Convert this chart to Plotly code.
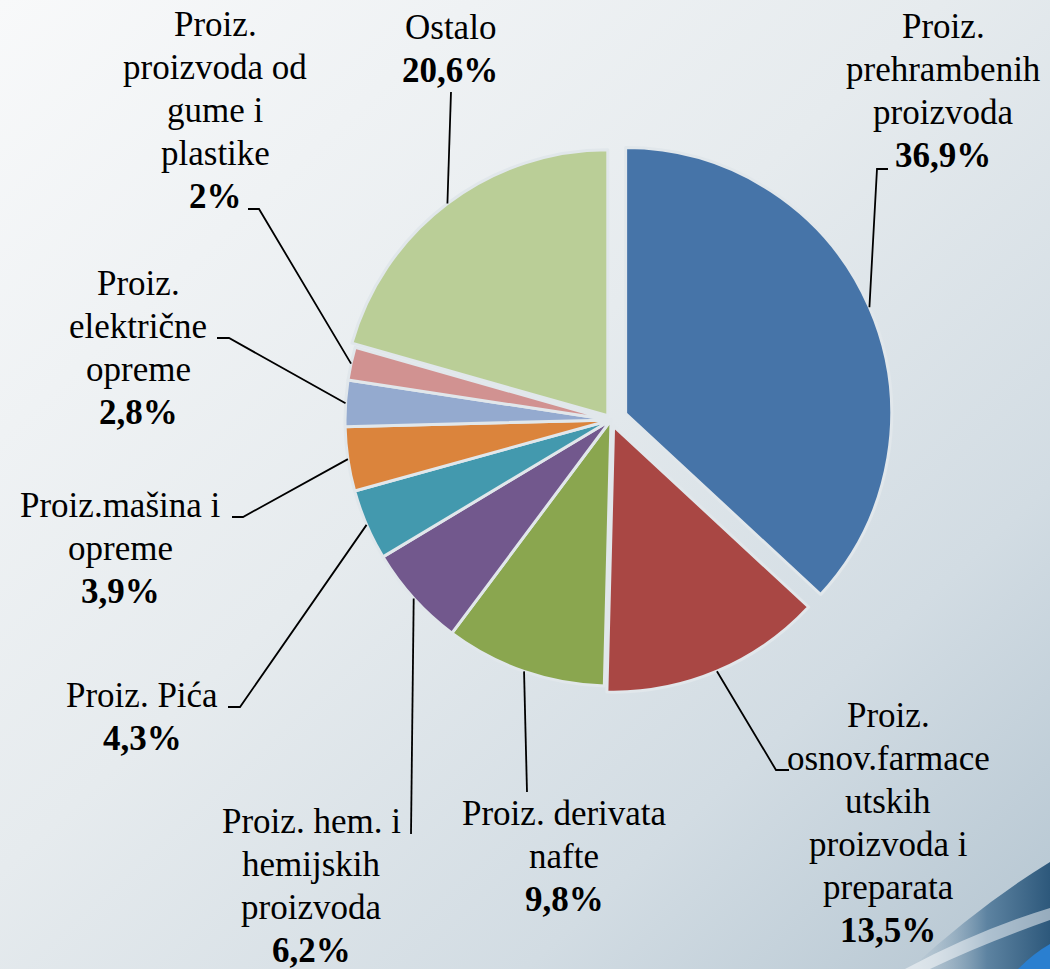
import math
import base64
import plotly.graph_objects as go

# ---------------- data ----------------
categories = [
    "Proiz.<br>prehrambenih<br>proizvoda",
    "Proiz.<br>osnov.farmace<br>utskih<br>proizvoda i<br>preparata",
    "Proiz. derivata<br>nafte",
    "Proiz. hem. i<br>hemijskih<br>proizvoda",
    "Proiz. Pića",
    "Proiz.mašina i<br>opreme",
    "Proiz.<br>električne<br>opreme",
    "Proiz.<br>proizvoda od<br>gume i<br>plastike",
    "Ostalo",
]
values = [36.9, 13.5, 9.8, 6.2, 4.3, 3.9, 2.8, 2.0, 20.6]
colors = ["#4674A8", "#A94744", "#8AA64F", "#72588D", "#4399AE",
          "#DB843C", "#94AACF", "#D19291", "#BACE97"]
pulls = [0.06, 0.025, 0, 0, 0, 0, 0, 0, 0.02]

# ---------------- layout geometry (pixels) ----------------
W, H = 1050, 969
CX, CY, R = 611, 420, 266          # pie centre and radius
# label: centre x and baseline of first line
label_pos = [(943, 38), (888, 727), (564, 825), (311, 833), (142, 707),
             (120, 517), (138, 295), (215, 36), (450, 39)]
LINE_GAP = 43
# leader line points after the slice point (elbow, end)
leader_pts = [
    [(877, 169), (888, 169)],
    [(776, 770), (789, 770)],
    [(527, 792)],
    [(411, 834)],
    [(240, 707), (228, 707)],
    [(243, 517), (232, 517)],
    [(229, 338), (217, 338)],
    [(259, 209), (248, 209)],
    [(451, 92)],
]

FONT = "Liberation Serif"
FS = 35


def px(x):
    return x / W


def py(y):
    return 1 - y / H


def fmt_pct(v):
    s = f"{v:.1f}".replace(".", ",")
    if s.endswith(",0"):
        s = s[:-2]
    return s + "%"


max_pull = max(pulls)
half = R * (1 + max_pull)
domain_x = [px(CX - half), px(CX + half)]
domain_y = [py(CY + half), py(CY - half)]

fig = go.Figure(go.Pie(
    values=values,
    labels=[c.replace("<br>", " ") for c in categories],
    sort=False,
    direction="clockwise",
    rotation=0,
    pull=pulls,
    marker=dict(colors=colors, line=dict(color="#e1e7eb", width=3)),
    textinfo="none",
    hoverinfo="label+percent",
    showlegend=False,
    domain=dict(x=domain_x, y=domain_y),
))

total = sum(values)
cum = 0
shapes = []
annotations = []
for i, v in enumerate(values):
    mid = (cum + v / 2) / total * 2 * math.pi
    cum += v
    dx, dy = math.sin(mid), -math.cos(mid)
    off = pulls[i] * R
    sx = CX + (R + off) * dx
    sy = CY + (R + off) * dy
    pts = [(sx, sy)] + leader_pts[i]
    path = "M " + " L ".join(f"{px(x):.5f},{py(y):.5f}" for x, y in pts)
    shapes.append(dict(type="path", path=path, xref="paper", yref="paper",
                       line=dict(color="black", width=1.8)))
    lx, base = label_pos[i]
    lines = categories[i].split("<br>") + [f"<b>{fmt_pct(v)}</b>"]
    for k, line in enumerate(lines):
        yc = base + k * LINE_GAP - 0.34 * FS
        annotations.append(dict(
            x=px(lx), y=py(yc), xref="paper", yref="paper",
            text=line, showarrow=False,
            xanchor="center", yanchor="middle", align="center",
            font=dict(family=FONT, size=FS, color="black"),
        ))

svg = f'''<svg xmlns="http://www.w3.org/2000/svg" width="{W}" height="{H}" viewBox="0 0 {W} {H}" preserveAspectRatio="none">
<defs>
<linearGradient id="g" x1="0" y1="0" x2="1" y2="1">
<stop offset="0" stop-color="#f8f9fa"/>
<stop offset="0.45" stop-color="#e6ebee"/>
<stop offset="0.75" stop-color="#d2dce3"/>
<stop offset="1" stop-color="#b4c5d1"/>
</linearGradient>
<linearGradient id="s" x1="0" y1="0" x2="1" y2="0">
<stop offset="0" stop-color="#a9bdcc" stop-opacity="0"/>
<stop offset="0.55" stop-color="#5d83a1"/>
<stop offset="1" stop-color="#2d587b"/>
</linearGradient>
</defs>
<rect width="{W}" height="{H}" fill="url(#g)"/>
<path d="M910,969 Q980,905 1050,862 L1050,969 Z" fill="url(#s)"/>
<path d="M905,969 Q978,930 1050,908 L1050,920 Q982,944 930,969 Z" fill="#ffffff" fill-opacity="0.5"/>
<path d="M1018,969 Q1034,953 1050,944 L1050,969 Z" fill="#2a7fd0"/>
</svg>'''
src = "data:image/svg+xml;base64," + base64.b64encode(svg.encode()).decode()

fig.update_layout(
    width=W, height=H,
    margin=dict(l=0, r=0, t=0, b=0),
    paper_bgcolor="#e6ebee",
    plot_bgcolor="rgba(0,0,0,0)",
    font=dict(family=FONT, size=FS, color="black"),
    shapes=shapes,
    annotations=annotations,
    images=[dict(source=src, xref="paper", yref="paper", x=0, y=1,
                 sizex=1, sizey=1, sizing="stretch", layer="below",
                 xanchor="left", yanchor="top")],
)

fig.write_html("out.html", config={"displayModeBar": False},
               post_script="document.body.style.margin='0';")
